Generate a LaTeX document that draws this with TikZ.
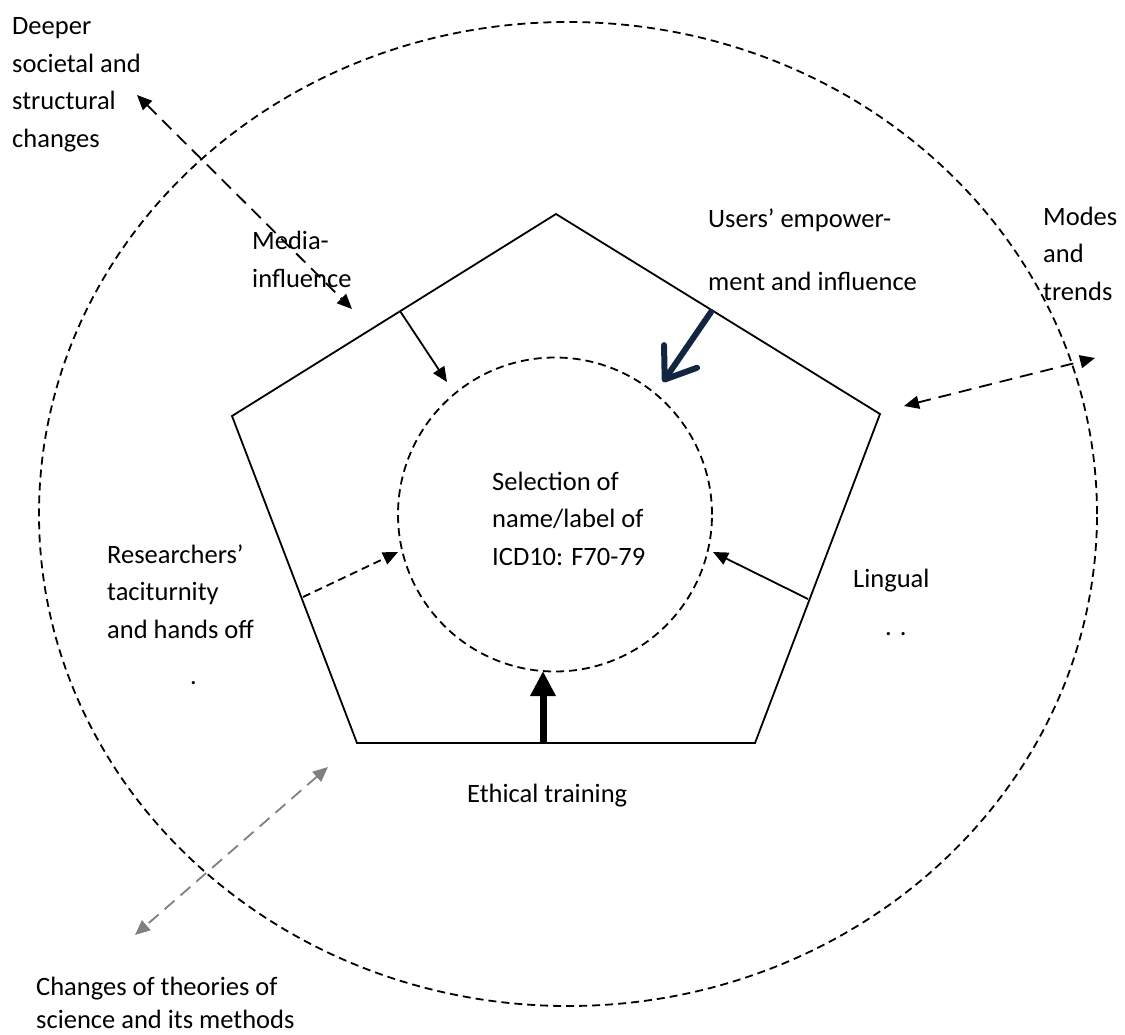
\documentclass[tikz,border=0pt]{standalone}
\usepackage{fontspec}
\setmainfont{Carlito}
\usetikzlibrary{arrows.meta}
\definecolor{navy}{RGB}{18,38,66}
\definecolor{midgrey}{RGB}{128,128,128}
\begin{document}
\begin{tikzpicture}[x=1pt,y=-1pt,
  lbl/.style={anchor=base west, align=left, inner sep=0pt, font=\fontsize{26.5}{37.5}\selectfont},
  edge/.style={line width=1.8pt, line join=miter},
  ringdash/.style={line width=1.8pt, dash pattern=on 8pt off 5pt},
  longdash/.style={line width=1.8pt, dash pattern=on 13pt off 8pt},
  tip/.style={-{Triangle[length=15pt,width=13pt]}},
  dtip/.style={{Triangle[length=15pt,width=13pt]}-{Triangle[length=15pt,width=13pt]}}
]
\useasboundingbox (0,0) rectangle (1125,1034);
% outer ring
\coordinate (oc) at (568,514);
\draw[ringdash] (oc) ellipse [x radius=529pt, y radius=492pt];
% pentagon
\coordinate (pT) at (556,214);
\coordinate (pR) at (880,414);
\coordinate (pBR) at (755,743);
\coordinate (pBL) at (357,743);
\coordinate (pL) at (232,416);
\draw[edge] (pT) -- (pR) -- (pBR) -- (pBL) -- (pL) -- cycle;
% inner ring
\node[circle, draw, ringdash, minimum size=314pt, inner sep=0pt] (core) at (555,514.5) {};
% (anchor base = baseline of the last line)
\node[lbl] (sel) at (492,565) {Selection of\\name/label of\\ICD10: F70-79};
% arrow end points
\coordinate (mA) at (400,311);  \coordinate (mB) at (447,382);
\coordinate (uA) at (711,312);  \coordinate (uB) at (663,382);
\coordinate (lA) at (808,599);  \coordinate (lB) at (713,552);
\coordinate (rA) at (303,597);  \coordinate (rB) at (398,552);
\coordinate (eA) at (543,743);  \coordinate (eB) at (543,671);
\coordinate (dA) at (137,95);   \coordinate (dB) at (352,309);
\coordinate (tA) at (904,406);  \coordinate (tB) at (1095,358);
\coordinate (gA) at (328,767);  \coordinate (gB) at (135,935);
% inner arrows
\draw[line width=1.8pt, tip] (mA) -- (mB);
\draw[line width=6pt, navy, line cap=round, -{Straight Barb[length=28pt,width=40pt,line cap=round,line join=round]}] (uA) -- (uB);
\draw[line width=1.8pt, tip] (lA) -- (lB);
\draw[line width=1.8pt, dash pattern=on 8pt off 5pt, tip] (rA) -- (rB);
\draw[line width=7pt, -{Triangle[length=25pt,width=24pt]}] (eA) -- (eB);
% outer arrows
\draw[longdash, dtip] (dA) -- (dB);
\draw[longdash, dtip] (tA) -- (tB);
\draw[longdash, midgrey, dtip] (gA) -- (gB);
% labels
\node[lbl] (deeper) at (12,147) {Deeper\\societal and\\structural\\changes};
\node[lbl] (media) at (252,287) {Media-\\influence};
\node[lbl] (users) at (708,290) {Users’ empower-\\[25.5pt]ment and influence};
\node[lbl] (modes) at (1043,300) {Modes\\and\\trends};
\node[lbl] (res) at (107,638) {Researchers’\\taciturnity\\and hands off};
\node[lbl] (resdot) at (190,684) {.};
\node[lbl] (ling) at (853,587) {Lingual};
\node[lbl] (lingdot) at (885,635) {. .};
\node[lbl] (eth) at (467,802) {Ethical training};
\node[lbl] (chg) at (36,995) {Changes of theories of};
\node[lbl] (chg2) at (36,1028) {science and its methods};
\end{tikzpicture}
\end{document}
